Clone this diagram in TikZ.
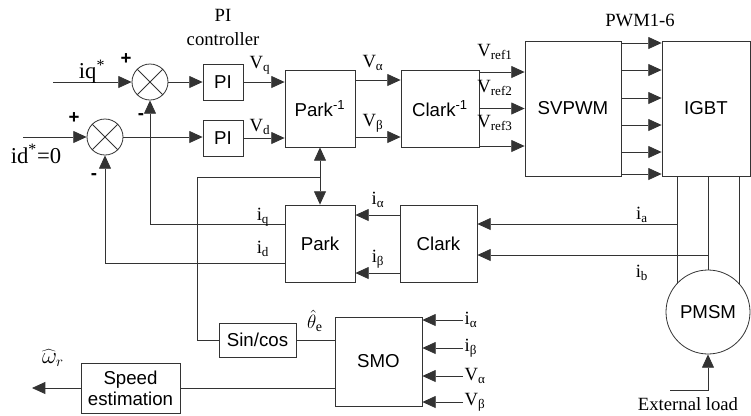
\documentclass[tikz,border=0pt]{standalone}
\usepackage{fontspec}
\setmainfont{Liberation Serif}
\setsansfont{Liberation Sans}
\usetikzlibrary{arrows.meta, calc}

\begin{document}
\begin{tikzpicture}[x=0.75pt, y=-0.75pt, line width=0.6pt,
    conn/.style={draw=black!80},
    arr/.style={conn, -{Triangle[length=10pt, width=9pt]}},
    darr/.style={conn, {Triangle[length=10pt, width=9pt]}-{Triangle[length=10pt, width=9pt]}},
    blk/.style={draw=black!80, fill=white, inner sep=0pt, align=center,
                font=\sffamily\fontsize{14}{16}\selectfont},
    sumnode/.style={draw=black!80, circle, minimum size=27pt, inner sep=0pt},
    lbl/.style={inner sep=1pt, font=\fontsize{14}{16}\selectfont}]
    \useasboundingbox (0,0) rectangle (751,415);

    % summing points
    \node[sumnode] (sq) at (150,82) {};
    \node[sumnode] (sd) at (105,137) {};
    \foreach \s in {sq,sd}
      \draw[conn] (\s.north east) -- (\s.south west) (\s.north west) -- (\s.south east);

    % blocks
    \node[blk, minimum width=30pt, minimum height=27pt] (piq) at (223,82) {PI};
    \node[blk, minimum width=30pt, minimum height=27pt] (pid) at (223,138) {PI};
    \node[blk, minimum width=52.5pt, minimum height=57.75pt] (parkinv) at (320,108.5) {Park\textsuperscript{-1}};
    \node[blk, minimum width=58.5pt, minimum height=57.75pt] (clarkinv) at (440,108.5) {Clark\textsuperscript{-1}};
    \node[blk, minimum width=72pt, minimum height=101.25pt] (svpwm) at (573,108.5) {SVPWM};
    \node[blk, minimum width=66pt, minimum height=101.25pt] (igbt) at (706,108.5) {IGBT};
    \node[blk, minimum width=52.5pt, minimum height=57.75pt] (park) at (320,243.5) {Park};
    \node[blk, minimum width=57.75pt, minimum height=57.75pt] (clark) at (438.5,243.5) {Clark};
    \node[blk, minimum width=57.75pt, minimum height=25.5pt] (sincos) at (257.5,340) {Sin/cos};
    \node[blk, minimum width=65.25pt, minimum height=66.75pt] (smo) at (378.5,361.5) {SMO};
    \node[blk, minimum width=74.25pt, minimum height=37.5pt] (speed) at (130.5,388) {Speed\\estimation};
    \node[blk, circle, minimum size=63pt] (pmsm) at (708,312) {PMSM};

    % references
    \coordinate (iqin) at (53,82);
    \coordinate (idin) at (23,137);
    \draw[arr] (iqin) -- (sq.west);
    \draw[arr] (idin) -- (idin -| sd.west);
    \node[lbl, font=\fontsize{17}{19}\selectfont] (iqref) at (92,72) {iq\textsuperscript{*}};
    \node[lbl, font=\fontsize{17}{19}\selectfont] (idref) at (36,154) {id\textsuperscript{*}=0};
    \node[lbl, font=\sffamily\bfseries\fontsize{14}{16}\selectfont] (pq) at (126,59) {+};
    \node[lbl, font=\sffamily\bfseries\fontsize{14}{16}\selectfont] (pd) at (74,118) {+};
    \node[lbl, font=\sffamily\bfseries\fontsize{14}{16}\selectfont] (mq) at (141,117) {-};
    \node[lbl, font=\sffamily\bfseries\fontsize{14}{16}\selectfont] (md) at (94,177) {-};

    % PI controllers
    \draw[arr] (sq.east) -- (sq.east -| piq.west);
    \draw[arr] (sd.east) -- (sd.east -| pid.west);
    \node[lbl, align=center, font=\fontsize{14}{18}\selectfont] (pictl) at (223,27) {PI\\controller};
    \draw[arr] (piq.east) -- (piq.east -| parkinv.west);
    \draw[arr] (pid.east) -- (pid.east -| parkinv.west);
    \node[lbl] (vq) at (260,65) {V\textsubscript{q}};
    \node[lbl] (vd) at (260,127) {V\textsubscript{d}};

    % inverse transforms
    \draw[arr] (parkinv.east |- 0,80) -- (clarkinv.west |- 0,80);
    \draw[arr] (parkinv.east |- 0,137) -- (clarkinv.west |- 0,137);
    \node[lbl] (va) at (373,63) {V\textsubscript{α}};
    \node[lbl] (vb) at (373,123) {V\textsubscript{β}};
    \foreach \y in {72,108.5,146}
      \draw[arr] (clarkinv.east |- 0,\y) -- (svpwm.west |- 0,\y);
    \node[lbl] (vr1) at (495,52) {V\textsubscript{ref1}};
    \node[lbl] (vr2) at (495,88) {V\textsubscript{ref2}};
    \node[lbl] (vr3) at (495,123) {V\textsubscript{ref3}};

    % PWM signals
    \foreach \y in {43,70,98,125,152,174}
      \draw[arr] (svpwm.east |- 0,\y) -- (igbt.west |- 0,\y);
    \node[lbl] (pwm) at (640,20) {PWM1-6};

    % motor phases
    \foreach \a in {136,90,42}
      \draw[conn] (pmsm.\a) -- (pmsm.\a |- igbt.south);
    \draw[arr] (pmsm.136 |- 0,224) -- (clark.east |- 0,224);
    \draw[arr] (pmsm.90 |- 0,255) -- (clark.east |- 0,255);
    \node[lbl] (ia) at (642,215) {i\textsubscript{a}};
    \node[lbl] (ib) at (642,273) {i\textsubscript{b}};
    \coordinate (load) at (670,390);
    \draw[arr] (load) -| (pmsm.south);
    \node[lbl] (loadtxt) at (688,404) {External load};

    % Clark -> Park -> feedback
    \draw[arr] (clark.west |- 0,215) -- (park.east |- 0,215);
    \draw[arr] (clark.west |- 0,273) -- (park.east |- 0,273);
    \node[lbl] (ial) at (378,200) {i\textsubscript{α}};
    \node[lbl] (ibl) at (378,259) {i\textsubscript{β}};
    \draw[arr] (park.west |- 0,224) -| (sq.south);
    \draw[arr] (park.west |- 0,263) -| (sd.south);
    \node[lbl] (iq) at (263,217) {i\textsubscript{q}};
    \node[lbl] (id) at (263,249) {i\textsubscript{d}};

    % angle path
    \draw[darr] (parkinv.south) -- (park.north);
    \coordinate (th) at (197,177);
    \draw[conn] (sincos.west) -| (th) -- (th -| parkinv.south);
    \draw[conn] (sincos.east) -- (sincos.east -| smo.west);
    \node[lbl, font=\fontsize{15}{17}\selectfont] (the) at (315,321) {$\hat{\theta}_{\mathrm{e}}$};

    % observer inputs
    \node[lbl, anchor=west] (sia) at (463,320) {i\textsubscript{α}};
    \node[lbl, anchor=west] (sib) at (463,348) {i\textsubscript{β}};
    \node[lbl, anchor=west] (sva) at (463,376) {V\textsubscript{α}};
    \node[lbl, anchor=west] (svb) at (463,402) {V\textsubscript{β}};
    \foreach \n in {sia,sib,sva,svb}
      \draw[arr] (\n.west) -- (\n.west -| smo.east);

    % speed output
    \draw[conn] (smo.west |- speed.east) -- (speed.east);
    \coordinate (wout) at (32,388);
    \draw[arr] (speed.west) -- (wout);
    \node[lbl, font=\fontsize{16}{18}\selectfont] (wr) at (53,358) {$\widehat{\omega}_r$};
\end{tikzpicture}
\end{document}
